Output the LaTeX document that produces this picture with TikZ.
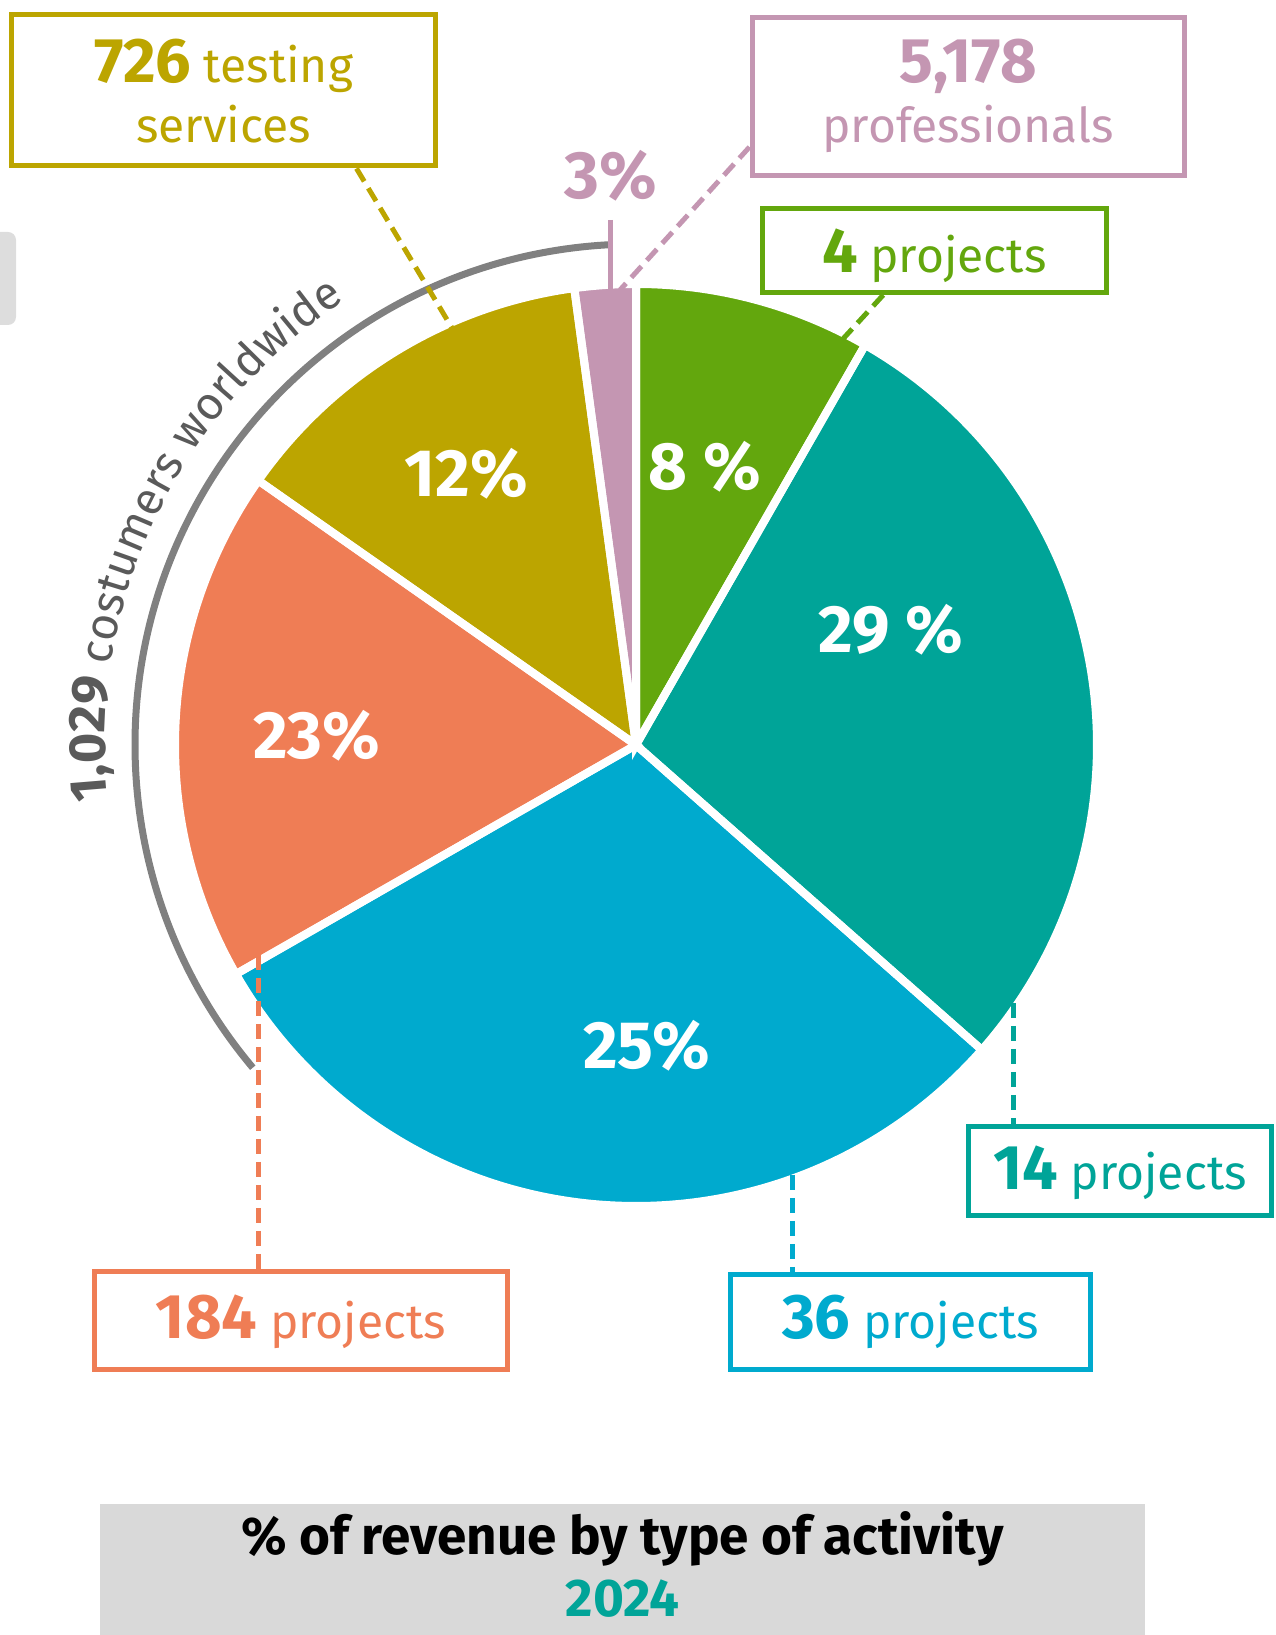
\documentclass[tikz,border=0pt]{standalone}
\usepackage{fontspec}
\setmainfont{Fira Sans}
\usetikzlibrary{calc,decorations.text}
\definecolor{olivec}{RGB}{188,165,0}
\definecolor{pinkc}{RGB}{196,150,178}
\definecolor{greenc}{RGB}{99,167,13}
\definecolor{tealc}{RGB}{0,164,152}
\definecolor{bluec}{RGB}{0,170,206}
\definecolor{orangec}{RGB}{239,125,85}
\definecolor{arcgray}{RGB}{128,128,128}
\definecolor{textgray}{RGB}{90,90,90}
\definecolor{titlegray}{RGB}{217,217,217}
\definecolor{leftgray}{RGB}{221,221,221}
\newcommand\bignum[1]{{\fontsize{63}{60}\selectfont\bfseries #1}}
\newcommand\pieR{461}
\newcommand\pieslice[3]{\fill[#1] (C) -- ($(C)+(#2:\pieR)$) arc[start angle=#2,end angle=#3,radius=\pieR] -- cycle;}
\newcommand\piegap[2]{\draw[white,line width=8pt] (C) -- ($(C)+(#1:\pieR)$) arc[start angle=#1,end angle=#2,radius=\pieR] -- cycle;}
\tikzset{
  box/.style={draw=#1, line width=5pt, inner sep=0pt, text=#1, font=\fontsize{48}{60}\selectfont},
  conn/.style={draw=#1, line width=5pt, dash pattern=on 15pt off 8pt},
  pct/.style={text=white, font=\fontsize{67}{70}\selectfont\bfseries, inner sep=0pt},
}
\begin{document}
\begin{tikzpicture}[x=1pt,y=1pt]
\useasboundingbox (0,0) rectangle (1276,1635);
\coordinate (C) at (636,890);
% left gray tab
\fill[leftgray, rounded corners=8pt] (-20,1310) rectangle (16,1403);
% pie
\pieslice{greenc}{60.2}{90}
\pieslice{pinkc}{90}{97.7}
\pieslice{olivec}{97.7}{145}
\pieslice{orangec}{145}{209.8}
\pieslice{bluec}{209.8}{318.6}
\pieslice{tealc}{-41.4}{60.2}
\piegap{60.2}{90}
\piegap{90}{97.7}
\piegap{97.7}{145}
\piegap{145}{209.8}
\piegap{209.8}{318.6}
\piegap{-41.4}{60.2}
% customers arc
\draw[arcgray, line width=7pt] ($(C)+(93.2:501)$) arc[start angle=93.2, end angle=220.1, radius=501];
\path[decorate, decoration={text along path, text color=textgray, text align=left,
  text={|\fontsize{52}{56}\selectfont\bfseries|1,029 |\fontsize{46}{50}\selectfont\mdseries|costumers worldwide}}]
  ($(C)+(186:531)$) arc[start angle=186, end angle=100, radius=531];
% percentage labels
\node[pct] (l8) at (705,1168.5) {8 \%};
\node[pct] (l29) at (891,1005.5) {29 \%};
\node[pct] (l12) at (466.5,1161) {12\%};
\node[pct] (l23) at (316.5,899.5) {23\%};
\node[pct] (l25) at (646.5,589.5) {25\%};
\node[pct, text=pinkc] (l3) at (611,1459.5) {3\%};
\coordinate (pt1) at (610.7,1415);
\coordinate (pt2) at (610.7,1345);
\draw[pinkc, line width=5pt] (pt1) -- (pt2);
% boxes
\node[box=olivec, minimum width=424pt, minimum height=151pt, text height=45pt, text depth=60pt] (ob) at (223.5,1544.5)
  {\begin{tabular}[t]{@{}c@{}}\bignum{726} testing\\ services\end{tabular}};
\node[box=pinkc, minimum width=432.5pt, minimum height=158pt, text height=45pt, text depth=72pt] (pb) at (968.25,1538.5)
  {\begin{tabular}[t]{@{}c@{}}\bignum{5,178}\\ professionals\end{tabular}};
\node[box=greenc, minimum width=344.5pt, minimum height=84pt, text height=45pt, text depth=0pt] (gb) at (934.25,1384.5)
  {\bignum{4} projects};
\node[box=tealc, minimum width=303pt, minimum height=89pt, text height=38pt, text depth=0pt] (tb) at (1120,464)
  {\bignum{14} projects};
\node[box=bluec, minimum width=360pt, minimum height=95pt, text height=34pt, text depth=0pt] (bb) at (910.5,313)
  {\bignum{36} projects};
\node[box=orangec, minimum width=413pt, minimum height=98pt, text height=37pt, text depth=0pt] (rb) at (301,314.5)
  {\bignum{184} projects};
% connectors
\coordinate (oe) at (452,1307);
\draw[conn=olivec] ($(ob.south west)!0.81!(ob.south east)$) -- (oe);
\coordinate (pe) at (620,1345);
\draw[conn=pinkc] ($(pb.north west)!0.81!(pb.south west)$) -- (pe);
\coordinate (ge) at (842,1295);
\draw[conn=greenc] ($(gb.south west)!0.354!(gb.south east)$) -- (ge);
\coordinate (te) at (1013,632);
\draw[conn=tealc] (te) -- (tb.north -| te);
\coordinate (be) at (792,460);
\draw[conn=bluec] (be) -- (bb.north -| be);
\coordinate (re) at (258,680);
\draw[conn=orangec] (re) -- (rb.north -| re);
% title
\node[fill=titlegray, inner sep=0pt, minimum width=1045pt, minimum height=131pt, text height=45pt, text depth=74pt,
  font=\fontsize{53}{62}\selectfont\bfseries] (title) at (622.5,65.5)
  {\begin{tabular}[t]{@{}c@{}}\% of revenue by type of activity\\ \textcolor{tealc}{2024}\end{tabular}};
\end{tikzpicture}
\end{document}
